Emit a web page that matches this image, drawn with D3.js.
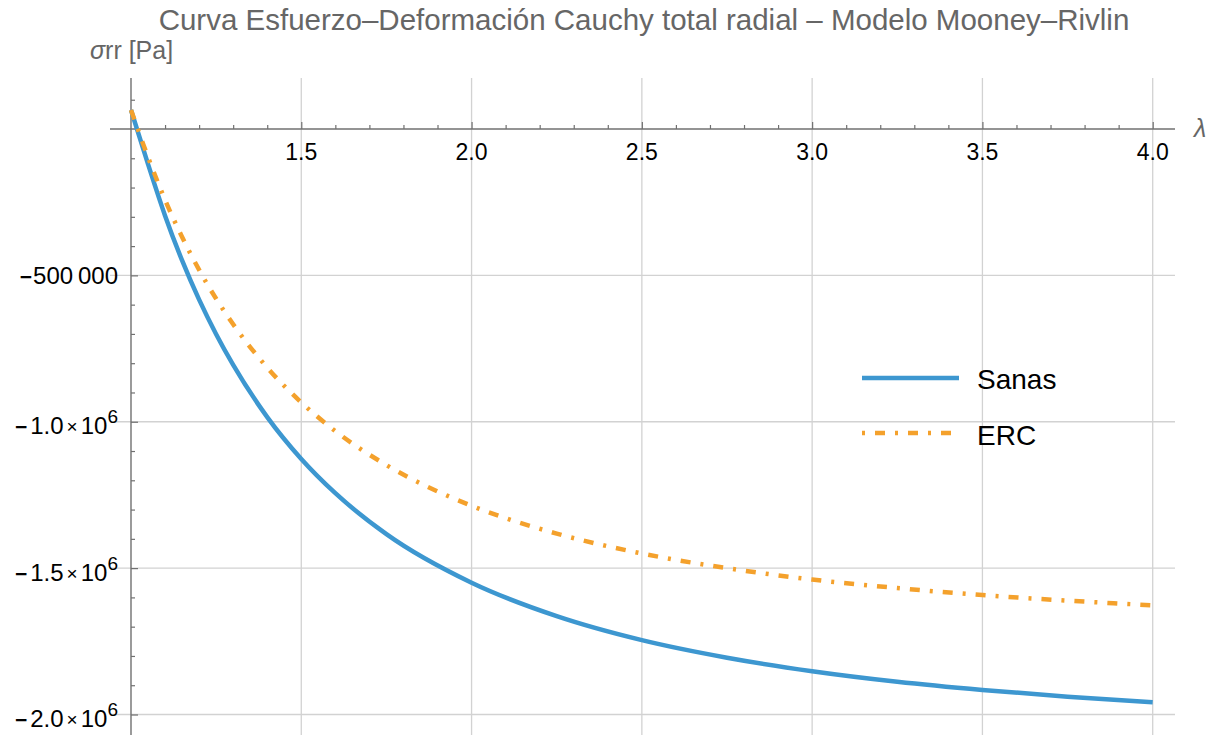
<!DOCTYPE html>
<html>
<head>
<meta charset="utf-8">
<script src="https://cdn.jsdelivr.net/npm/d3@7"></script>
<style>
body { margin: 0; background: #fff; }
text { font-family: "Liberation Sans", Arial, sans-serif; }
</style>
</head>
<body>
<svg id="chart" width="1218" height="735"></svg>
<script>
// values
const lambda = [1.0, 1.05, 1.1, 1.15, 1.2, 1.25, 1.3, 1.4, 1.5, 1.6, 1.75, 2.0, 2.25, 2.5, 2.75, 3.0, 3.25, 3.5, 3.75, 4.0]
const sanas = [65000, -120000, -296000, -449000, -583000, -701000, -806000, -984000, -1127000, -1244000, -1384000,
    -1550000, -1664000, -1746000, -1806000, -1852000, -1888000, -1916000, -1939000, -1958000]
const erc = [65000, -96000, -242000, -369000, -481000, -580000, -667000, -815000, -934000, -1032000, -1148000,
    -1287000, -1382000, -1450000, -1500000, -1539000, -1568000, -1592000, -1611000, -1627000]
const seriesNames = ['Sanas', 'ERC']
const xMajor = [1.5, 2.0, 2.5, 3.0, 3.5, 4.0]
const xLabels = ['1.5', '2.0', '2.5', '3.0', '3.5', '4.0']
const yMajor = [-500000, -1000000, -1500000, -2000000]
const yLabels = ['500\u2009000', '1.0', '1.5', '2.0']

const blue = '#3d97d0'
const orange = '#f4a12c'
const axisGray = '#707070'
const gridGray = '#d2d2d2'

const svg = d3.select('#chart')
const x = d3.scaleLinear().domain([1, 4]).range([131, 1152.7])
const y = d3.scaleLinear().domain([0, -2000000]).range([129, 714.5])
const xLo = x.invert(110), xHi = x.invert(1175)
const yTop = y.invert(78), yBot = y.invert(736)

// grid
svg.append('g').selectAll('line')
    .data(xMajor)
    .enter()
    .append('line')
    .attr('x1', d => x(d)).attr('x2', d => x(d))
    .attr('y1', y(yTop)).attr('y2', y(yBot))
    .attr('stroke', gridGray).attr('stroke-width', 1.3)
svg.append('g').selectAll('line')
    .data(yMajor)
    .enter()
    .append('line')
    .attr('y1', d => y(d)).attr('y2', d => y(d))
    .attr('x1', x(xLo)).attr('x2', x(xHi))
    .attr('stroke', gridGray).attr('stroke-width', 1.3)

// x axis
const xMinor = d3.range(11, 41).map(d => d / 10).filter(d => !xMajor.some(m => Math.abs(m - d) < 1e-6))
const xAxisG = svg.append('g').attr('transform', `translate(0,${y(0)})`)
xAxisG.append('g').call(d3.axisTop(x).tickValues(xMinor).tickSize(4).tickFormat(''))
xAxisG.append('g').call(d3.axisTop(x).tickValues(xMajor).tickSize(7).tickFormat(''))
xAxisG.selectAll('.domain').remove()
xAxisG.selectAll('line').attr('stroke', axisGray).attr('stroke-width', 1.2)
xAxisG.append('line')
    .attr('x1', x(xLo)).attr('x2', x(xHi))
    .attr('stroke', axisGray).attr('stroke-width', 1.4)
svg.append('g').selectAll('text')
    .data(xMajor)
    .enter()
    .append('text')
    .attr('x', d => x(d))
    .attr('y', y(0) + 31)
    .attr('text-anchor', 'middle')
    .attr('font-size', 23)
    .attr('fill', '#000')
    .text((d, i) => xLabels[i])

// y axis
const yMinor = d3.range(1, -21, -1).map(d => d * 100000).filter(d => d !== 0 && !yMajor.includes(d))
const yAxisG = svg.append('g').attr('transform', `translate(${x(1)},0)`)
yAxisG.append('g').call(d3.axisRight(y).tickValues(yMinor).tickSize(4).tickFormat(''))
yAxisG.append('g').call(d3.axisRight(y).tickValues(yMajor).tickSize(7).tickFormat(''))
yAxisG.selectAll('.domain').remove()
yAxisG.selectAll('line').attr('stroke', axisGray).attr('stroke-width', 1.2)
yAxisG.append('line')
    .attr('y1', y(yTop)).attr('y2', y(yBot))
    .attr('stroke', axisGray).attr('stroke-width', 1.4)

const yLab = svg.append('g').selectAll('text')
    .data(yMajor)
    .enter()
    .append('text')
    .attr('x', x(1) - 13)
    .attr('y', (d, i) => y(d) + (i === 0 ? 9 : 12.5))
    .attr('text-anchor', 'end')
    .attr('font-size', 24)
    .attr('fill', '#000')
yLab.each(function (d, i) {
    const t = d3.select(this)
    t.append('tspan').attr('font-weight', 'bold').attr('font-size', 21).text('\u2212')
    if (i === 0) {
        t.append('tspan').attr('dx', 1).text(yLabels[i])
    } else {
        t.append('tspan').attr('dx', 3).text(yLabels[i])
        t.append('tspan').attr('font-size', 19).attr('dx', 3).attr('dy', -1).text('\u00d7')
        t.append('tspan').attr('dx', 3).attr('dy', 1).text('10')
        t.append('tspan').attr('font-size', 19).attr('dy', -11).text('6')
    }
})

// curves
const line = d3.line().curve(d3.curveMonotoneX)
svg.append('path')
    .attr('d', line(lambda.map((l, i) => [x(l), y(sanas[i])])))
    .attr('fill', 'none')
    .attr('stroke', blue)
    .attr('stroke-width', 4.5)
svg.append('path')
    .attr('d', line(lambda.map((l, i) => [x(l), y(erc[i])])))
    .attr('fill', 'none')
    .attr('stroke', orange)
    .attr('stroke-width', 4.5)
    .attr('stroke-dasharray', '10 10 3 10')

// legend
const legend = svg.append('g').attr('transform', 'translate(862,378)')
legend.append('line').attr('x1', 0).attr('x2', 97).attr('y1', 0).attr('y2', 0)
    .attr('stroke', blue).attr('stroke-width', 4.5)
legend.append('line').attr('x1', 0).attr('x2', 97).attr('y1', 55).attr('y2', 55)
    .attr('stroke', orange).attr('stroke-width', 4.5).attr('stroke-dasharray', '3 10 10 10')
legend.selectAll('text.lg')
    .data(seriesNames)
    .enter()
    .append('text')
    .attr('class', 'lg')
    .attr('x', 115)
    .attr('y', (d, i) => 11 + i * 56)
    .attr('font-size', 28)
    .attr('fill', '#000')
    .text(d => d)

// titles
svg.append('text')
    .attr('x', 644).attr('y', 30)
    .attr('text-anchor', 'middle')
    .attr('font-size', 29.5)
    .attr('fill', '#666')
    .text('Curva Esfuerzo\u2013Deformación Cauchy total radial \u2013 Modelo Mooney\u2013Rivlin')
const yTitle = svg.append('text')
    .attr('x', 90).attr('y', 59)
    .attr('font-size', 25)
    .attr('fill', '#666')
yTitle.append('tspan').attr('font-style', 'italic').text('σ')
yTitle.append('tspan').text('rr [Pa]')
svg.append('text')
    .attr('x', 1194).attr('y', 137)
    .attr('font-size', 25)
    .attr('font-style', 'italic')
    .attr('fill', '#666')
    .text('λ')
</script>
</body>
</html>
